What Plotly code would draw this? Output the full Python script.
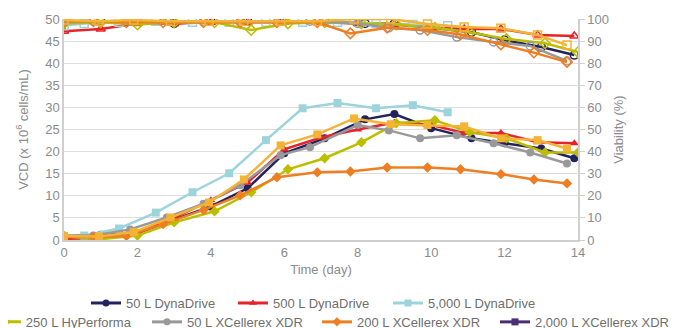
import plotly.graph_objects as go

# ---- data ----
names = ["50 L DynaDrive", "500 L DynaDrive", "5,000 L DynaDrive",
         "250 L HyPerforma", "50 L XCellerex XDR", "200 L XCellerex XDR",
         "2,000 L XCellerex XDR"]

navy_day = [0, 1, 2, 3, 4, 5, 6, 7.1, 8.2, 9, 10, 11.1, 12, 13, 13.9]
navy_vcd = [0.8, 1.2, 1.6, 4.6, 7.6, 11.7, 19.6, 23.0, 27.3, 28.5, 25.3, 23.0, 21.9, 20.7, 18.5]
navy_via = [99, 99, 99, 98, 99, 99, 99, 99, 98, 98, 96, 94, 90.5, 87.3, 83.7]

red_day = [0, 1, 2, 3, 4, 5, 6, 7, 8, 9, 10, 10.9, 11.9, 12.9, 13.9]
red_vcd = [0.3, 0.4, 1.5, 5.0, 9.0, 13.0, 20.5, 23.2, 25.0, 26.6, 26.0, 24.2, 24.2, 22.1, 21.9]
red_via = [94.5, 95.5, 98, 98, 98.5, 98.5, 98.5, 98.5, 98, 97.5, 96, 95.5, 95.5, 92.8, 92.3]

lb_day = [0, 0.55, 1.5, 2.5, 3.5, 4.5, 5.5, 6.5, 7.45, 8.5, 9.5, 10.45]
lb_vcd = [0.6, 1.0, 2.6, 6.2, 10.8, 15.1, 22.6, 29.8, 31.0, 29.8, 30.5, 28.9]
lb_via = [97, 98, 98.5, 99, 98.5, 98.5, 98.5, 98.5, 98.5, 98, 97.5, 97]

ol_day = [0, 1, 2, 3, 4.1, 5.1, 6.1, 7.1, 8.1, 9.05, 10.1, 11.05, 12.05, 13.1, 14]
ol_vcd = [0.8, 0.2, 1.0, 4.0, 6.5, 10.8, 16.0, 18.5, 22.1, 26.4, 27.1, 24.4, 23.0, 19.8, 19.8]
ol_via = [98, 98.5, 97.5, 98.5, 98.5, 95, 98, 98.5, 98, 97.5, 96, 94, 91, 89, 85]

gr_day = [0, 0.8, 1.8, 2.8, 3.8, 4.8, 5.9, 6.7, 8.0, 8.85, 9.7, 10.7, 11.7, 12.7, 13.7]
gr_vcd = [1.0, 1.0, 2.4, 5.1, 8.2, 12.4, 19.2, 21.0, 26.0, 24.8, 23.0, 23.7, 21.9, 19.8, 17.3]
gr_via = [98.5, 99, 99, 99, 99, 99, 99, 99, 98, 96, 95, 91.8, 89.6, 87.8, 81]

or_day = [0, 0.8, 1.7, 2.7, 3.8, 4.8, 5.8, 6.9, 7.8, 8.8, 9.9, 10.8, 11.9, 12.8, 13.7]
or_vcd = [0.8, 0.7, 0.9, 3.6, 6.8, 10.1, 14.2, 15.3, 15.5, 16.4, 16.4, 16.0, 14.9, 13.7, 12.8]
or_via = [99, 99, 98.5, 98.5, 98.5, 98.5, 98.5, 98.5, 93.5, 96, 95, 93, 88.5, 84.8, 80.5]

go_day = [0, 0.95, 1.9, 2.9, 3.95, 4.9, 5.9, 6.9, 7.9, 8.9, 9.9, 10.9, 11.9, 12.9, 13.7]
go_vcd = [0.9, 0.8, 1.8, 5.1, 8.5, 13.7, 21.4, 23.9, 27.5, 26.2, 26.0, 25.7, 23.0, 22.6, 20.7]
go_via = [99.5, 99, 99.5, 99, 99, 99, 99, 99, 100, 100, 97.7, 96.4, 95.8, 92.8, 88.2]

series = [
    (names[0], navy_day, navy_vcd, navy_via, "#22235e", "circle"),
    (names[1], red_day, red_vcd, red_via, "#e8222a", "triangle-up"),
    (names[2], lb_day, lb_vcd, lb_via, "#9dd4dc", "square"),
    (names[3], ol_day, ol_vcd, ol_via, "#bdbd00", "diamond"),
    (names[4], gr_day, gr_vcd, gr_via, "#999999", "circle"),
    (names[5], or_day, or_vcd, or_via, "#ef7d22", "diamond"),
    (names[6], go_day, go_vcd, go_via, "#f5b335", "square"),
]
legend_colors = ["#22235e", "#e8222a", "#9dd4dc", "#bdbd00", "#999999", "#ef7d22", "#4b2d73"]

# legend entry placement: two rows (x in paper fractions of plot width)
legend_x = [0.0428, 0.3288, 0.6304, -0.152, 0.1615, 0.4922, 0.8385]
legend_y = [0.078, 0.078, 0.078, 0.019, 0.019, 0.019, 0.019]

fig = go.Figure()

# viability (right axis), hollow markers
for name, d, vcd, via, col, sym in series:
    fig.add_trace(go.Scatter(
        x=d, y=via, mode="lines+markers", yaxis="y2", showlegend=False,
        line=dict(color=col, width=2.5),
        marker=dict(symbol=sym + "-open", size=8, color=col, line=dict(width=1.5)),
        hoverinfo="skip"))

# VCD (left axis), filled markers
for i, (name, d, vcd, via, col, sym) in enumerate(series):
    fig.add_trace(go.Scatter(
        x=d, y=vcd, mode="lines+markers", name=name, showlegend=False,
        line=dict(color=col, width=2.5),
        marker=dict(symbol=sym, size=8, color=col)))

FONT = "Liberation Sans, Arial, sans-serif"
legend_layouts = {}
for i, (name, d, vcd, via, col, sym) in enumerate(series):
    key = "legend" if i == 0 else f"legend{i + 1}"
    fig.add_trace(go.Scatter(
        x=[None], y=[None], mode="lines+markers", name=name, legend=key,
        line=dict(color=legend_colors[i], width=3),
        marker=dict(symbol=sym, size=7, color=legend_colors[i])))
    legend_layouts[key] = dict(
        orientation="h", x=legend_x[i], xanchor="left", y=legend_y[i], yanchor="middle",
        xref="paper", yref="container",
        font=dict(family=FONT, size=13, color="#6f6f6f"),
        itemwidth=30, bgcolor="rgba(0,0,0,0)")

tick_font = dict(family=FONT, size=13, color="#8c8c8c")

fig.update_layout(
    width=673, height=320,
    margin=dict(l=56, r=103, t=11, b=88, autoexpand=False),
    paper_bgcolor="white", plot_bgcolor="white",
    font=dict(family=FONT, size=13, color="#8c8c8c"),
    xaxis=dict(range=[0, 14], dtick=2, showgrid=False, showline=True,
               linecolor="#cfcfcf", linewidth=1.5, ticks="", zeroline=False,
               tickfont=tick_font,
               title=dict(text="Time (day)", font=dict(size=13, color="#8c8c8c"), standoff=6)),
    yaxis=dict(range=[0, 50], dtick=5, showgrid=True, gridcolor="#dedede",
               gridwidth=1.2, showline=True, linecolor="#cfcfcf", linewidth=1.5,
               zeroline=False, tickfont=tick_font, ticks="",
               title=dict(text="VCD (x 10<sup>6</sup> cells/mL)",
                          font=dict(size=13, color="#8c8c8c"), standoff=14)),
    yaxis2=dict(range=[0, 100], dtick=10, overlaying="y", side="right",
                showgrid=False, showline=True, linecolor="#cfcfcf", linewidth=1.5,
                ticks="outside", ticklen=5, tickcolor="#cfcfcf",
                zeroline=False, tickfont=tick_font,
                title=dict(text="Viability (%)", font=dict(size=13, color="#8c8c8c"), standoff=6)),
    **legend_layouts,
)

fig.write_html("out.html")
